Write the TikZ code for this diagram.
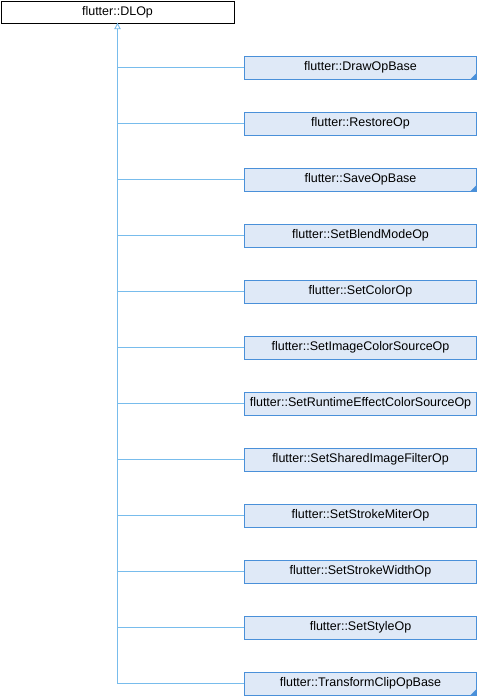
\documentclass[tikz,border=0pt]{standalone}
\usepackage{fontspec}
\setmainfont{Liberation Sans}
\definecolor{linkblue}{RGB}{120,188,236}
\definecolor{boxborder}{RGB}{74,144,217}
\definecolor{boxfill}{RGB}{223,233,247}
\tikzset{
  rootbox/.style={draw=black, fill=white, line width=1pt, minimum width=233pt, minimum height=22pt, inner sep=0pt, font=\fontsize{12.5}{14}\selectfont},
  childbox/.style={draw=boxborder, fill=boxfill, line width=1pt, minimum width=232pt, minimum height=23pt, inner sep=0pt, font=\fontsize{12.5}{14}\selectfont},
  linkline/.style={draw=linkblue, line width=1pt},
  cornermark/.style={fill=boxborder, draw=none}
}
\begin{document}
\begin{tikzpicture}[x=1pt,y=-1pt]
\useasboundingbox (0,0) rectangle (478,696);
\node[rootbox] (root) at (117.5,12.2) {flutter::DLOp};
\coordinate (trunkend) at (117.5,684);
\foreach \i/\name/\txt/\cor in {
 0/c0/DrawOpBase/1,
 1/c1/RestoreOp/0,
 2/c2/SaveOpBase/1,
 3/c3/SetBlendModeOp/0,
 4/c4/SetColorOp/0,
 5/c5/SetImageColorSourceOp/0,
 6/c6/SetRuntimeEffectColorSourceOp/0,
 7/c7/SetSharedImageFilterOp/0,
 8/c8/SetStrokeMiterOp/0,
 9/c9/SetStrokeWidthOp/0,
 10/c10/SetStyleOp/0,
 11/c11/TransformClipOpBase/1}{
  \node[childbox] (\name) at (360.5,67.5+56*\i) {flutter::\txt};
  \coordinate (j\i) at (117.5,67.5+56*\i);
  \draw[linkline] (j\i) -- (\name.west);
  \ifnum\cor=1
    \fill[cornermark] (\name.south east) ++(-0.5,-0.5) -- ++(-6,0) -- ++(6,-6) -- cycle;
  \fi
}
\draw[linkline] (trunkend) -- (root.south);
\draw[draw=linkblue, line width=0.9pt, fill=white] (root.south) -- ++(2.6,5) -- ++(-5.2,0) -- cycle;
\end{tikzpicture}
\end{document}
